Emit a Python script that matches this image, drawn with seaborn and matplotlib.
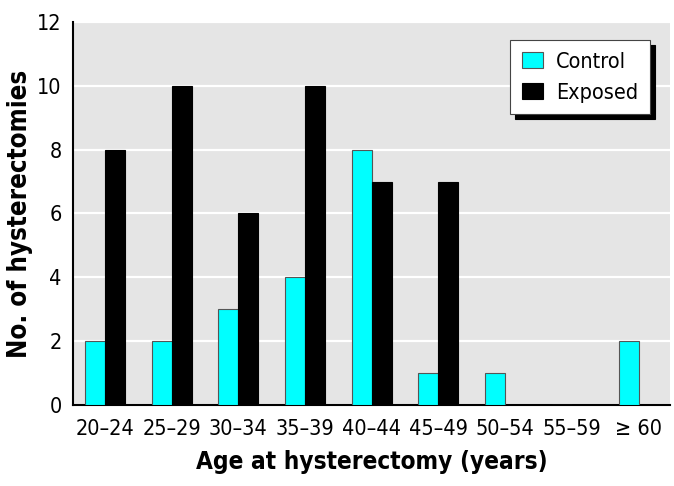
import matplotlib
matplotlib.use("Agg")
import matplotlib.pyplot as plt
import pandas as pd
import seaborn as sns

age_groups = ["20\u201324", "25\u201329", "30\u201334", "35\u201339", "40\u201344",
              "45\u201349", "50\u201354", "55\u201359", "\u2265 60"]
control = [2, 2, 3, 4, 8, 1, 1, 0, 2]
exposed = [8, 10, 6, 10, 7, 7, 0, 0, 0]
groups = ["Control", "Exposed"]
colors = {"Control": "#00ffff", "Exposed": "#000000"}

df = pd.DataFrame({
    "age": age_groups * 2,
    "count": control + exposed,
    "group": ["Control"] * len(age_groups) + ["Exposed"] * len(age_groups),
})

sns.set_theme(style="white")
plt.rcParams["font.family"] = ["DejaVu Sans"]
plt.rcParams["font.stretch"] = "condensed"
plt.rcParams["text.color"] = "black"

fig = plt.figure(figsize=(6.74, 4.86), dpi=100)
ax = fig.add_axes([0.108, 0.1667, 0.886, 0.788])
ax.set_facecolor("#e5e5e5")

sns.barplot(data=df, x="age", y="count", hue="group", order=age_groups,
            hue_order=groups, palette=colors, width=0.6, saturation=1,
            ax=ax, zorder=3)

for bar in ax.patches:
    fc = bar.get_facecolor()
    if fc[0] < 0.1 and fc[1] < 0.1:
        bar.set_edgecolor("black")
    else:
        bar.set_edgecolor("#555555")
    bar.set_linewidth(0.8)

ax.set_ylim(0, 12)
ax.set_xlim(-0.48, 8.47)
ax.set_yticks(range(0, 13, 2))
ax.yaxis.grid(True, color="white", linewidth=1.6, zorder=0)
ax.set_axisbelow(True)

for s in ["top", "right"]:
    ax.spines[s].set_visible(False)
for s in ["left", "bottom"]:
    ax.spines[s].set_color("black")
    ax.spines[s].set_linewidth(1.5)

ax.tick_params(axis="both", length=0, labelsize=15.5, colors="black")
ax.tick_params(axis="y", pad=8)
ax.tick_params(axis="x", pad=10)

ax.set_xlabel("Age at hysterectomy (years)", fontsize=17.5, fontweight="bold",
              labelpad=8, color="black")
ax.set_ylabel("No. of hysterectomies", fontsize=18.5, fontweight="bold",
              labelpad=3, color="black")

leg = ax.legend(loc="upper right", bbox_to_anchor=(0.966, 0.953), borderaxespad=0,
                fontsize=15.5, frameon=True, fancybox=False, framealpha=1,
                edgecolor="#444444", facecolor="white", handlelength=0.95,
                handleheight=0.75, handletextpad=0.6, labelspacing=0.5,
                borderpad=0.55,
                shadow={"ox": 3.5, "oy": -3.5, "facecolor": "black",
                        "edgecolor": "black", "alpha": 1})
leg.get_frame().set_linewidth(0.8)
leg.set_zorder(10)

fig.savefig("out.png", dpi=100)
